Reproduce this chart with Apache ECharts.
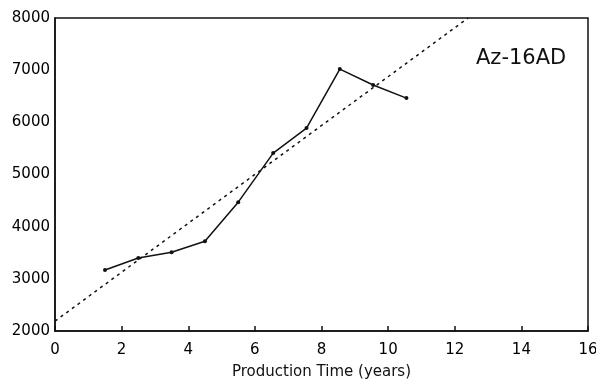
<!DOCTYPE html>
<html>
<head>
<meta charset="utf-8">
<script src="https://cdn.jsdelivr.net/npm/echarts@6/dist/echarts.min.js"></script>
<style>
  html, body { margin: 0; padding: 0; background: #fff; }
  #chart { width: 596px; height: 388px; }
</style>
</head>
<body>
<div id="chart"></div>
<script>
// measured production (years, value)
var years = [1.5, 2.5, 3.5, 4.5, 5.5, 6.55, 7.55, 8.55, 9.55, 10.55];
var values = [3170, 3400, 3510, 3720, 4470, 5410, 5890, 7020, 6715, 6465];
// dotted linear trend, two end points
var trendX = [0, 12.4];
var trendY = [2190, 8000];
var xTicks = [0, 2, 4, 6, 8, 10, 12, 14, 16];
var yTicks = [2000, 3000, 4000, 5000, 6000, 7000, 8000];
var wellName = 'Az-16AD';

var chart = echarts.init(document.getElementById('chart'));

var labelStyle = {color: '#000', fontFamily: 'DejaVu Sans', fontSize: 15};

var option = {
  animation: false,
  title: {
    text: wellName,
    left: 471,
    top: 43,
    textStyle: {color: '#111', fontFamily: 'DejaVu Sans', fontSize: 21, fontWeight: 'normal'}
  },
  grid: {
    left: 55, right: 8, top: 18, bottom: 57,
    outerBoundsMode: 'none',
    containLabel: false,
    show: true, borderColor: '#111', borderWidth: 1.5
  },
  xAxis: {
    type: 'value',
    min: xTicks[0], max: xTicks[xTicks.length - 1], interval: 2,
    name: 'Production Time (years)',
    nameLocation: 'middle',
    nameGap: 34,
    nameTextStyle: {color: '#111', fontFamily: 'DejaVu Sans', fontSize: 15},
    axisLine: {lineStyle: {color: '#111', width: 1.5}},
    axisTick: {inside: true, length: 5, lineStyle: {color: '#111', width: 1.5}},
    axisLabel: Object.assign({margin: 12, formatter: function (v) { return String(v); }}, labelStyle),
    splitLine: {show: false}
  },
  yAxis: {
    type: 'value',
    min: yTicks[0], max: yTicks[yTicks.length - 1], interval: 1000,
    axisLine: {show: true, lineStyle: {color: '#111', width: 1.5}},
    axisTick: {show: false},
    axisLabel: Object.assign({margin: 5, formatter: function (v) { return String(v); }}, labelStyle),
    splitLine: {show: false}
  },
  series: [
    {
      type: 'line',
      data: trendX.map(function (x, i) { return [x, trendY[i]]; }),
      symbol: 'none',
      lineStyle: {color: '#111', width: 1.5, type: [3, 4]},
      z: 2
    },
    {
      type: 'line',
      data: years.map(function (x, i) { return [x, values[i]]; }),
      symbol: 'circle',
      symbolSize: 4,
      itemStyle: {color: '#111'},
      lineStyle: {color: '#111', width: 1.5},
      z: 3
    }
  ]
};

chart.setOption(option);
</script>
</body>
</html>
